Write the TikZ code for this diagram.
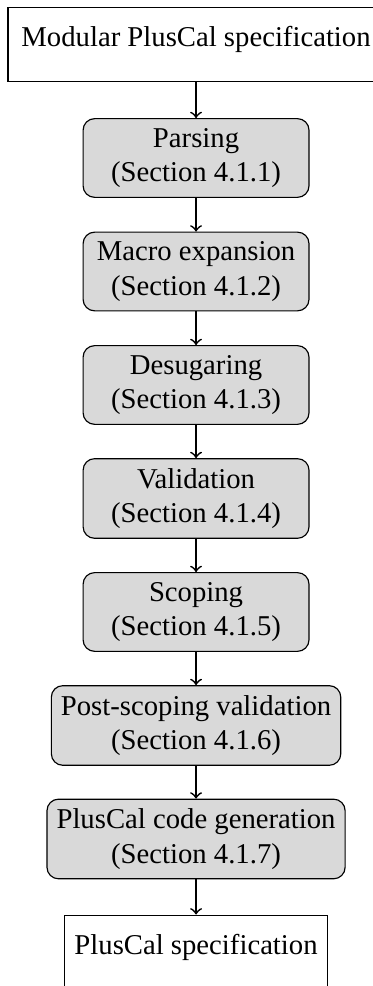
\documentclass[tikz,border=0pt]{standalone}
\usepackage{fontspec}
\setmainfont{Liberation Serif}
\usetikzlibrary{positioning}

\tikzset{
	specbox/.style={draw, inner sep=3.33pt, text height=10.3pt, text depth=9.1pt},
	passbox/.style={draw, fill=gray!30, rounded corners=4pt, align=center, minimum width=78.7pt},
	passarrow/.style={->, semithick},
}

\begin{document}
\begin{tikzpicture}
	\useasboundingbox (0,0) rectangle (129.6pt,-343.5pt);

	\node [specbox, minimum width=131pt] (spec) at (68.3pt,-15.5pt) {Modular PlusCal specification};
	\node [passbox] (p1) at ([yshift=-39.54pt]spec.center) {Parsing\\(Section 4.1.1)};
	\foreach \x/\y/\z in {2/1/Macro expansion, 3/2/Desugaring, 4/3/Validation, 5/4/Scoping, 6/5/Post-scoping validation, 7/6/PlusCal code generation}
	{
		\node [passbox] (p\x) at ([yshift=-39.54pt]p\y.center) {\z\\(Section 4.1.\x)};
	}
	\node [specbox] (out) at ([yshift=-39.54pt]p7.center) {PlusCal specification};

	% arrows between the passes
	\draw [passarrow] (spec) -- (p1);
	\foreach \x/\y in {1/2, 2/3, 3/4, 4/5, 5/6, 6/7}
	{
		\draw [passarrow] (p\x) -- (p\y);
	}
	\draw [passarrow] (p7) -- (out);
\end{tikzpicture}
\end{document}
